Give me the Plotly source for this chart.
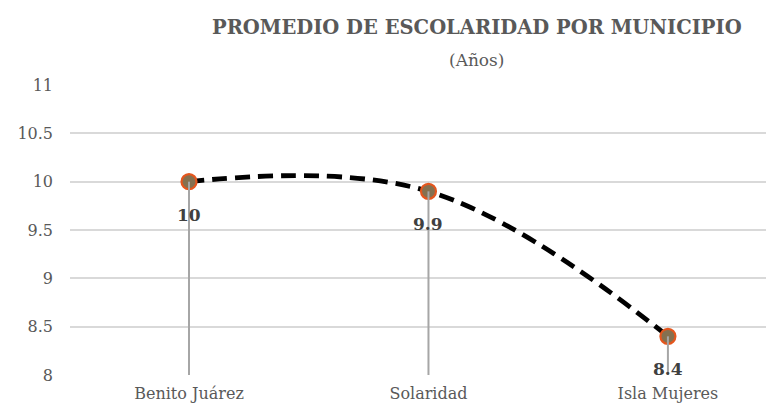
import plotly.graph_objects as go

categories = ["Benito Juárez", "Solaridad", "Isla Mujeres"]
values = [10, 9.9, 8.4]
labels = ["10", "9.9", "8.4"]
y_ticks = [8, 8.5, 9, 9.5, 10, 10.5, 11]
y_min = 8

FONT = "DejaVu Serif"
xs = list(range(len(categories)))

fig = go.Figure()

fig.add_trace(go.Scatter(
    x=xs, y=values, mode="lines",
    line=dict(color="black", width=4.8, dash="15px,8px", shape="spline", smoothing=1.1),
    hoverinfo="skip", showlegend=False,
))
fig.add_trace(go.Scatter(
    x=xs, y=values, mode="markers",
    marker=dict(size=15, color="#85704f", line=dict(color="#e4561e", width=2.2)),
    showlegend=False,
))
# drop lines
dx, dy = [], []
for x, v in zip(xs, values):
    dx += [x, x, None]
    dy += [v, y_min, None]
fig.add_trace(go.Scatter(
    x=dx, y=dy, mode="lines",
    line=dict(color="#a6a6a6", width=2),
    hoverinfo="skip", showlegend=False,
))

for x, v, t in zip(xs, values, labels):
    fig.add_annotation(x=x, y=v, text=f"<b>{t}</b>", showarrow=False,
                       yshift=-33, font=dict(family=FONT, size=17, color="#404040"))

fig.add_annotation(xref="paper", yref="paper", x=0.578, y=1.2, yanchor="middle",
                   showarrow=False,
                   text="<b>PROMEDIO DE ESCOLARIDAD POR MUNICIPIO</b>",
                   font=dict(family=FONT, size=19.5, color="#595959"))
fig.add_annotation(xref="paper", yref="paper", x=0.578, y=1.086, yanchor="middle",
                   showarrow=False,
                   text="(Años)",
                   font=dict(family=FONT, size=17, color="#595959"))

fig.update_layout(
    width=766, height=403,
    margin=dict(l=62, r=0, t=77, b=36),
    paper_bgcolor="white", plot_bgcolor="white",
    xaxis=dict(
        tickmode="array", tickvals=xs, ticktext=categories,
        range=[-0.497, 2.443], showgrid=False, zeroline=False, showline=False,
        tickfont=dict(family=FONT, size=16, color="#595959"), ticks="",
        ticklabelstandoff=7,
    ),
    yaxis=dict(
        range=[8, 11], tickvals=y_ticks, ticktext=[f"{t:g}" for t in y_ticks],
        showgrid=True, gridcolor="#d9d9d9", gridwidth=1.5, zeroline=False, showline=False,
        tickfont=dict(family=FONT, size=16, color="#595959"), ticks="", ticklabelstandoff=16,
    ),
)

fig.write_html("out.html")
